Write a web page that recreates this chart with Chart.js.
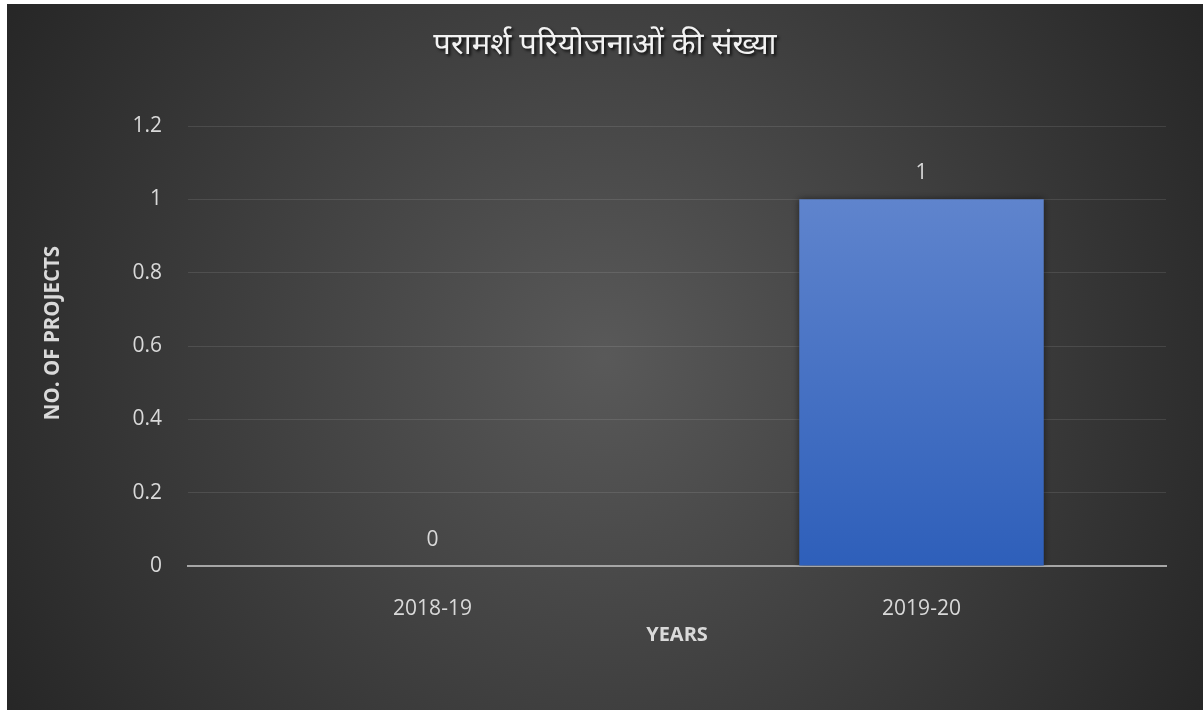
<!DOCTYPE html>
<html>
<head>
<meta charset="utf-8">
<script src="https://cdn.jsdelivr.net/npm/chart.js@4"></script>
<style>
  html, body { margin: 0; padding: 0; background: #fff; }
  #wrap { position: absolute; left: 7px; top: 4px; width: 1196px; height: 706px; }
</style>
</head>
<body>
<div id="wrap"><canvas id="chart"></canvas></div>
<script>
const chartTitle = 'परामर्श परियोजनाओं की संख्या';
const xTitle = 'YEARS';
const yTitle = 'NO. OF PROJECTS';
const years = ['2018-19', '2019-20'];
const projects = [0, 1];
const yTicks = [0, 0.2, 0.4, 0.6, 0.8, 1, 1.2];

const latin = '"Open Sans", "Noto Sans", sans-serif';
const textColor = '#d9d9d9';

// dark radial background, title with shadow, y-axis title
const backdrop = {
  id: 'backdrop',
  beforeDraw(chart) {
    const { ctx, width, height } = chart;
    const g = ctx.createRadialGradient(width / 2, height / 2, 0, width / 2, height / 2, 700);
    g.addColorStop(0, '#595959');
    g.addColorStop(1, '#262626');
    ctx.save();
    ctx.fillStyle = g;
    ctx.fillRect(0, 0, width, height);
    ctx.restore();
  },
  afterDraw(chart) {
    const { ctx, width } = chart;
    ctx.save();
    ctx.font = '31px "Noto Sans Devanagari", "Noto Sans", sans-serif';
    ctx.fillStyle = '#f2f2f2';
    ctx.textAlign = 'center';
    ctx.textBaseline = 'middle';
    ctx.shadowColor = 'rgba(0,0,0,0.8)';
    ctx.shadowBlur = 3;
    ctx.shadowOffsetX = 2;
    ctx.shadowOffsetY = 2;
    ctx.fillText(chartTitle, width / 2, 44);
    ctx.restore();

    ctx.save();
    ctx.translate(46, 329);
    ctx.rotate(-Math.PI / 2);
    ctx.font = 'bold 20.5px ' + latin;
    ctx.fillStyle = textColor;
    ctx.textAlign = 'center';
    ctx.textBaseline = 'middle';
    ctx.fillText(yTitle, 0, 0);
    ctx.restore();
  }
};

// soft shadow on bars, value labels above them
const barExtras = {
  id: 'barExtras',
  beforeDatasetsDraw(chart) {
    const ctx = chart.ctx;
    ctx.save();
    ctx.shadowColor = 'rgba(0,0,0,0.5)';
    ctx.shadowBlur = 7;
  },
  afterDatasetsDraw(chart) {
    const ctx = chart.ctx;
    ctx.restore();
    ctx.save();
    ctx.font = '21px ' + latin;
    ctx.fillStyle = textColor;
    ctx.textAlign = 'center';
    ctx.textBaseline = 'middle';
    chart.getDatasetMeta(0).data.forEach((bar, i) => {
      ctx.fillText(String(projects[i]), bar.x, bar.y - 26);
    });
    ctx.restore();
  }
};

new Chart(document.getElementById('chart'), {
  type: 'bar',
  data: {
    labels: years,
    datasets: [{
      data: projects,
      barPercentage: 0.5,
      categoryPercentage: 1,
      borderWidth: 0,
      backgroundColor(c) {
        const chart = c.chart;
        if (!chart.chartArea) return '#4472c4';
        const y = chart.scales.y;
        const g = chart.ctx.createLinearGradient(0, y.getPixelForValue(1), 0, y.getPixelForValue(0));
        g.addColorStop(0, '#5f84cd');
        g.addColorStop(1, '#2e5fba');
        return g;
      }
    }]
  },
  options: {
    responsive: true,
    maintainAspectRatio: false,
    animation: false,
    layout: { padding: { top: 122, right: 37, left: 0, bottom: 0 } },
    plugins: {
      legend: { display: false },
      tooltip: { enabled: false }
    },
    scales: {
      x: {
        grid: { display: false },
        border: { display: true, color: '#a6a6a6', width: 2 },
        ticks: { color: textColor, font: { family: latin, size: 21 }, padding: 22 },
        title: {
          display: true, text: xTitle, color: textColor,
          font: { family: latin, size: 20, weight: 'bold' },
          padding: { top: 0, bottom: 63 }
        },
        afterFit(s) { s.height = 144; }
      },
      y: {
        min: 0,
        max: 1.2,
        afterBuildTicks(s) { s.ticks = yTicks.map(v => ({ value: v })); },
        grid: { color: 'rgba(255,255,255,0.1)', lineWidth: 1, drawTicks: false },
        border: { display: false },
        ticks: {
          color: textColor, font: { family: latin, size: 21 }, padding: 26,
          callback: v => String(Math.round(v * 10) / 10)
        },
        afterFit(s) { s.width = 181; }
      }
    }
  },
  plugins: [backdrop, barExtras]
});
</script>
</body>
</html>
